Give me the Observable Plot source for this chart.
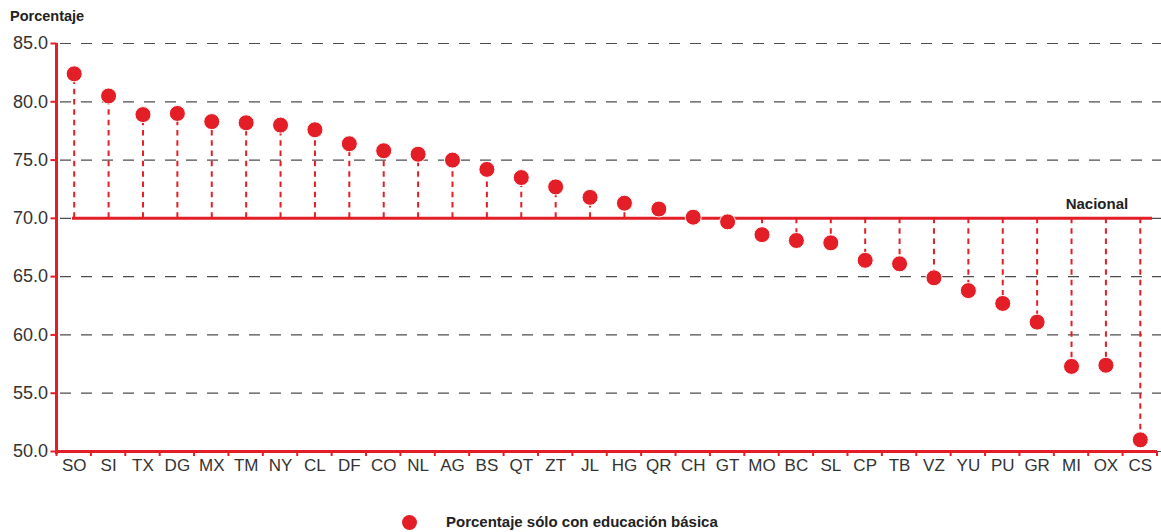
<!DOCTYPE html>
<html>
<head>
<meta charset="utf-8">
<script src="https://cdn.jsdelivr.net/npm/d3@7"></script>
<script src="https://cdn.jsdelivr.net/npm/@observablehq/plot@0.6"></script>
<style>
  html, body { margin: 0; padding: 0; background: #fff; }
  body { position: relative; width: 1161px; height: 532px; overflow: hidden; font-family: "Liberation Sans", Arial, Helvetica, sans-serif; }
  #title { position: absolute; left: 10px; top: 9px; font-size: 14.5px; line-height: 14.5px; font-weight: bold; color: #222; }
  #chart { position: absolute; left: 0; top: 30px; }
  #legend { position: absolute; left: 0; top: 0; width: 1161px; height: 532px; pointer-events: none; }
  #legend .dot { position: absolute; left: 401.5px; top: 514.5px; width: 15px; height: 15px; border-radius: 50%; background: #e41e26; }
  #legend .txt { position: absolute; left: 446px; top: 514px; font-size: 15px; line-height: 15px; font-weight: bold; color: #222; white-space: nowrap; }
</style>
</head>
<body>
<div id="title">Porcentaje</div>
<div id="chart"></div>
<div id="legend"><div class="dot"></div><div class="txt">Porcentaje sólo con educación básica</div></div>
<script>
const states = ["SO","SI","TX","DG","MX","TM","NY","CL","DF","CO","NL","AG","BS","QT","ZT","JL","HG","QR","CH","GT","MO","BC","SL","CP","TB","VZ","YU","PU","GR","MI","OX","CS"];
const values = [82.4,80.5,78.9,79.0,78.3,78.2,78.0,77.6,76.4,75.8,75.5,75.0,74.2,73.5,72.7,71.8,71.3,70.8,70.1,69.7,68.6,68.1,67.9,66.4,66.1,64.9,63.8,62.7,61.1,57.3,57.4,51.0];
const yTicks = [50,55,60,65,70,75,80,85];
const national = 70.0;
const nationalLabel = "Nacional";

const RED = "#e41e26";
const data = states.map((s, i) => ({state: s, value: values[i]}));

function axisFrame(index, scales, vals, dims) {
  const {marginLeft, marginTop, marginBottom, height} = dims;
  const y0 = height - marginBottom;
  const g = d3.create("svg:g");
  g.append("line")
    .attr("x1", marginLeft).attr("x2", marginLeft)
    .attr("y1", marginTop).attr("y2", y0 + 3)
    .attr("stroke", RED).attr("stroke-width", 3);
  const x = scales.x;
  const edges = states.map(s => x(s));
  edges.push(x(states[states.length - 1]) + x.bandwidth());
  for (const e of edges) {
    g.append("line")
      .attr("x1", e).attr("x2", e)
      .attr("y1", y0).attr("y2", y0 + 5)
      .attr("stroke", RED).attr("stroke-width", 2);
  }
  return g.node();
}

const chart = Plot.plot({
  width: 1161,
  height: 470,
  marginTop: 13,
  marginBottom: 49,
  marginLeft: 56.5,
  marginRight: 4,
  style: {fontFamily: "'Liberation Sans', Arial, Helvetica, sans-serif", background: "white", color: "#333"},
  x: {type: "band", domain: states, padding: 0, round: false, axis: null, label: null},
  y: {domain: [50, 85], axis: null, label: null},
  marks: [
    Plot.ruleY(yTicks, {stroke: "#4d4d4d", strokeWidth: 1.2, strokeDasharray: "11,10", strokeDashoffset: -3.5, insetRight: -4}),
    Plot.ruleY([national], {stroke: RED, strokeWidth: 3, insetLeft: 15.5, insetRight: 5}),
    Plot.ruleX(data, {x: "state", y1: national, y2: "value", stroke: RED, strokeWidth: 2, strokeDasharray: "5.5,4.8"}),
    Plot.dot(data, {x: "state", y: "value", r: 8, fill: RED, stroke: "white", strokeWidth: 1}),
    Plot.ruleY([50], {stroke: RED, strokeWidth: 3}),
    axisFrame,
    Plot.axisY({ticks: yTicks, tickFormat: d3.format(".1f"), tickSize: 6, tickPadding: 3, stroke: RED, strokeWidth: 2, fill: "#333", fontSize: 18, label: null}),
    Plot.axisX({tickSize: 0, tickPadding: 7, fill: "#333", fontSize: 17, label: null}),
    Plot.text([nationalLabel], {x: () => "OX", y: () => national, text: d => d, dx: -9, dy: -14, fontSize: 15, fontWeight: "bold", fill: "#222"})
  ]
});
document.getElementById("chart").appendChild(chart);
</script>
</body>
</html>
